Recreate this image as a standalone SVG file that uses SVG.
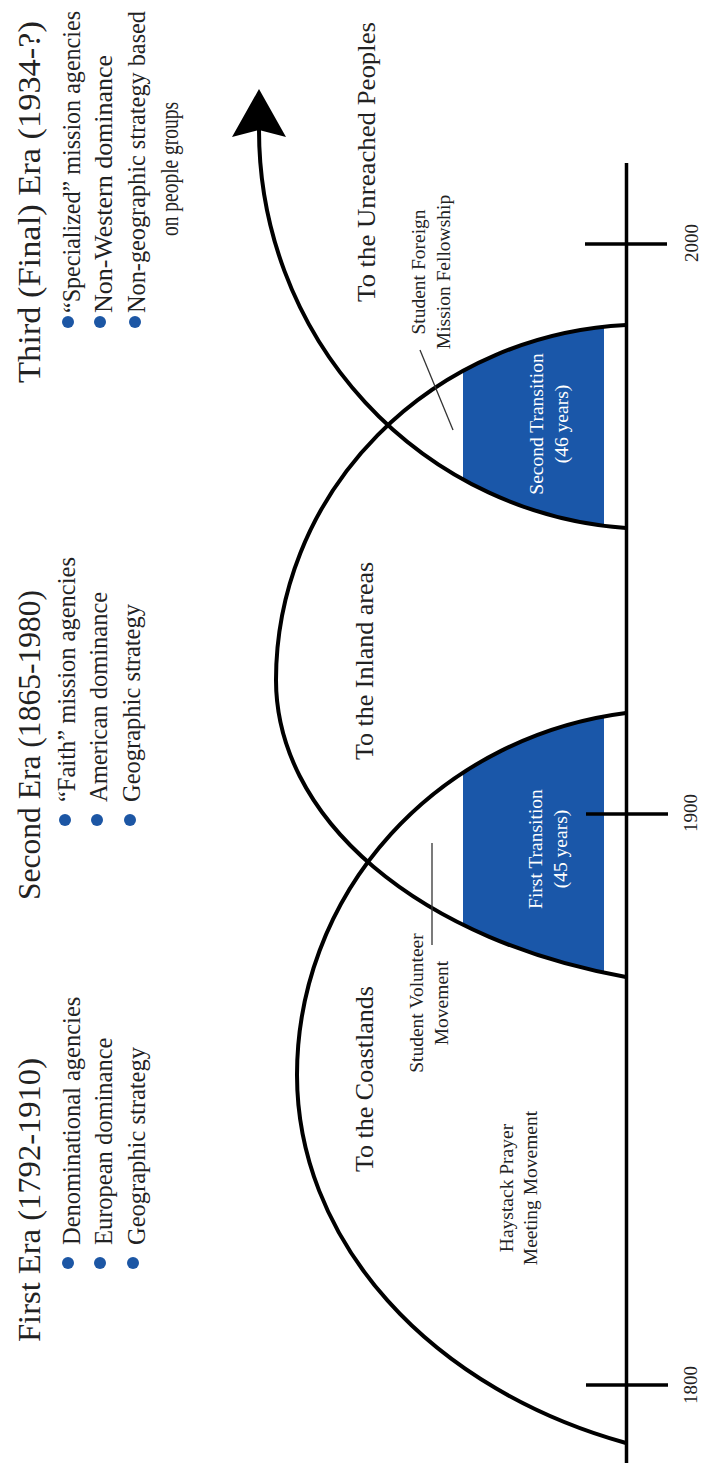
<svg xmlns="http://www.w3.org/2000/svg" width="701" height="1467" viewBox="0 0 701 1467">
  <style>
    .title { font-family: "Liberation Serif", "Times New Roman", serif; font-size: 32px; fill: #222; }
    .item { font-family: "Liberation Serif", "Times New Roman", serif; font-size: 24.5px; fill: #222; }
    .route { font-family: "Liberation Serif", "Times New Roman", serif; font-size: 26px; fill: #222; }
    .note { font-family: "Liberation Serif", "Times New Roman", serif; font-size: 19.5px; fill: #222; text-anchor: middle; }
    .band-label { font-family: "Liberation Serif", "Times New Roman", serif; font-size: 19.5px; fill: #fff; text-anchor: middle; }
    .year { font-family: "Liberation Serif", "Times New Roman", serif; font-size: 19px; fill: #222; text-anchor: middle; }
    .dot { fill: #1c56a4; }
    .arc { fill: none; stroke: #000; stroke-width: 4; }
    .rule { fill: none; stroke: #000; stroke-width: 3.5; }
    .leader { fill: none; stroke: #333; stroke-width: 1.3; }
    .transition { fill: #1a57a9; }
  </style>
  <defs>
    <marker id="arrowhead" markerUnits="userSpaceOnUse" markerWidth="48" markerHeight="54" viewBox="0 0 48 54" refX="10" refY="27" orient="auto">
      <path d="M0 0 L48 27 L0 54 L7 27 Z" fill="#000"/>
    </marker>
    <!-- interiors of the era arches, closed along the time axis -->
    <clipPath id="inside-first">
      <path d="M626 713 A378 365 0 0 0 297 1075 A490.6 389.8 0 0 0 626 1443 Z"/>
    </clipPath>
    <clipPath id="inside-third">
      <path d="M626 528 A394.7 399 0 0 1 259 130 L259 0 L626 0 Z"/>
    </clipPath>
    <clipPath id="band">
      <rect x="463" y="0" width="141" height="1467"/>
    </clipPath>
  </defs>

  <rect width="701" height="1467" fill="#fff"/>

  <!-- shaded overlap between consecutive eras -->
  <g id="first-transition">
    <g clip-path="url(#band)">
      <g clip-path="url(#inside-first)">
        <path class="transition" d="M626 325 A369.3 355.5 0 0 0 276 680 A475.7 307.9 0 0 0 626 977 Z"/>
      </g>
    </g>
    <text class="band-label" transform="rotate(-90 542 849)" x="542" y="849">First Transition</text>
    <text class="band-label" transform="rotate(-90 567 849)" x="567" y="849">(45 years)</text>
  </g>
  <g id="second-transition">
    <g clip-path="url(#band)">
      <g clip-path="url(#inside-third)">
        <path class="transition" d="M626 325 A369.3 355.5 0 0 0 276 680 A475.7 307.9 0 0 0 626 977 Z"/>
      </g>
    </g>
    <text class="band-label" transform="rotate(-90 543 424)" x="543" y="424">Second Transition</text>
    <text class="band-label" transform="rotate(-90 568 424)" x="568" y="424">(46 years)</text>
  </g>

  <!-- arches and leader lines -->
  <g id="connectors">
    <path class="arc" d="M626 713 A378 365 0 0 0 297 1075 A490.6 389.8 0 0 0 626 1443"/>
    <path class="arc" d="M626 325 A369.3 355.5 0 0 0 276 680 A475.7 307.9 0 0 0 626 977"/>
    <path class="arc" d="M626 528 A394.7 399 0 0 1 259 130 L259 127" marker-end="url(#arrowhead)"/>
    <line class="leader" x1="432" y1="843" x2="432" y2="945"/>
    <line class="leader" x1="420" y1="350" x2="453" y2="430"/>
  </g>

  <!-- time axis with century ticks -->
  <g id="axis">
    <line class="rule" x1="626.5" y1="163" x2="626.5" y2="1463"/>
    <line class="rule" x1="586" y1="1385" x2="668" y2="1385"/>
    <line class="rule" x1="586" y1="814" x2="668" y2="814"/>
    <line class="rule" x1="585" y1="244" x2="667" y2="244"/>
    <text class="year" transform="rotate(-90 697 1385)" x="697" y="1385">1800</text>
    <text class="year" transform="rotate(-90 697 813)" x="697" y="813">1900</text>
    <text class="year" transform="rotate(-90 698 243)" x="698" y="243">2000</text>
  </g>

  <!-- route labels inside the arches -->
  <g id="route-coastlands">
    <text class="route" transform="rotate(-90 373 1172)" x="373" y="1172">To the Coastlands</text>
  </g>
  <g id="route-inland">
    <text class="route" transform="rotate(-90 373 760)" x="373" y="760">To the Inland areas</text>
  </g>
  <g id="route-unreached">
    <text class="route" transform="rotate(-90 375 302)" x="375" y="302" textLength="280" lengthAdjust="spacingAndGlyphs">To the Unreached Peoples</text>
  </g>

  <!-- movements -->
  <g id="haystack">
    <text class="note" transform="rotate(-90 513 1188)" x="513" y="1188">Haystack Prayer</text>
    <text class="note" transform="rotate(-90 537 1188)" x="537" y="1188">Meeting Movement</text>
  </g>
  <g id="student-volunteer">
    <text class="note" transform="rotate(-90 423 1003)" x="423" y="1003">Student Volunteer</text>
    <text class="note" transform="rotate(-90 448 1003)" x="448" y="1003">Movement</text>
  </g>
  <g id="student-foreign">
    <text class="note" transform="rotate(-90 425 272)" x="425" y="272">Student Foreign</text>
    <text class="note" transform="rotate(-90 450 272)" x="450" y="272">Mission Fellowship</text>
  </g>

  <!-- era descriptions -->
  <g id="era-first">
    <text class="title" transform="rotate(-90 40 1342)" x="40" y="1342" textLength="284" lengthAdjust="spacingAndGlyphs">First Era (1792-1910)</text>
    <circle class="dot" cx="68" cy="1263" r="6"/>
    <circle class="dot" cx="100" cy="1263" r="6"/>
    <circle class="dot" cx="133" cy="1263" r="6"/>
    <text class="item" transform="rotate(-90 80 1245)" x="80" y="1245">Denominational agencies</text>
    <text class="item" transform="rotate(-90 112 1245)" x="112" y="1245">European dominance</text>
    <text class="item" transform="rotate(-90 145 1245)" x="145" y="1245">Geographic strategy</text>
  </g>
  <g id="era-second">
    <text class="title" transform="rotate(-90 40 900)" x="40" y="900" textLength="310" lengthAdjust="spacingAndGlyphs">Second Era (1865-1980)</text>
    <circle class="dot" cx="65" cy="820" r="6"/>
    <circle class="dot" cx="97" cy="820" r="6"/>
    <circle class="dot" cx="130" cy="820" r="6"/>
    <text class="item" transform="rotate(-90 75 802)" x="75" y="802">“Faith” mission agencies</text>
    <text class="item" transform="rotate(-90 107 802)" x="107" y="802">American dominance</text>
    <text class="item" transform="rotate(-90 140 802)" x="140" y="802">Geographic strategy</text>
  </g>
  <g id="era-third">
    <text class="title" transform="rotate(-90 40 383)" x="40" y="383" textLength="362" lengthAdjust="spacingAndGlyphs">Third (Final) Era (1934-?)</text>
    <circle class="dot" cx="68" cy="322" r="6"/>
    <circle class="dot" cx="100" cy="322" r="6"/>
    <circle class="dot" cx="135" cy="322" r="6"/>
    <text class="item" transform="rotate(-90 80 313)" x="80" y="313" textLength="302" lengthAdjust="spacingAndGlyphs">“Specialized” mission agencies</text>
    <text class="item" transform="rotate(-90 112 313)" x="112" y="313" textLength="258" lengthAdjust="spacingAndGlyphs">Non-Western dominance</text>
    <text class="item" transform="rotate(-90 145 313)" x="145" y="313" textLength="302" lengthAdjust="spacingAndGlyphs">Non-geographic strategy based</text>
    <text class="item" transform="rotate(-90 178 236)" x="178" y="236" textLength="134" lengthAdjust="spacingAndGlyphs">on people groups</text>
  </g>
</svg>
